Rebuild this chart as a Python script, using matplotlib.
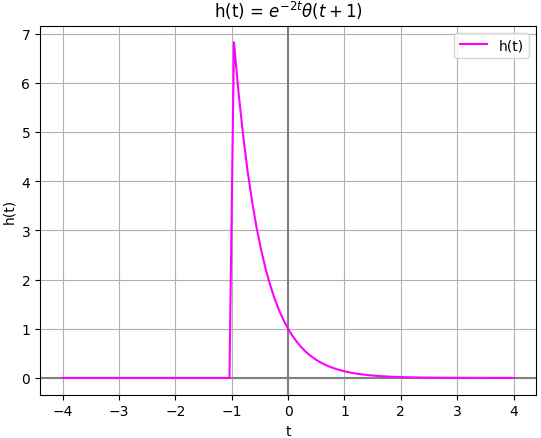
import matplotlib
matplotlib.use("Agg")
import matplotlib.pyplot as plt

# samples of h(t)
t_vals = [-4.0, -1.04, -0.96, -0.88, -0.80, -0.72, -0.64, -0.56, -0.48, -0.40,
          -0.32, -0.24, -0.16, -0.08, 0.00, 0.08, 0.16, 0.24, 0.32, 0.40,
          0.48, 0.56, 0.64, 0.72, 0.80, 0.88, 0.96, 1.04, 1.12, 1.20,
          1.28, 1.36, 1.44, 1.52, 1.60, 1.68, 1.76, 1.84, 1.92, 2.00,
          2.4, 2.8, 3.2, 3.6, 4.0]
h_vals = [0.0, 0.0, 6.821, 5.812, 4.953, 4.221, 3.597, 3.065, 2.612, 2.226,
          1.896, 1.616, 1.377, 1.174, 1.000, 0.852, 0.726, 0.619, 0.527, 0.449,
          0.383, 0.326, 0.278, 0.237, 0.202, 0.172, 0.147, 0.125, 0.106, 0.091,
          0.077, 0.066, 0.056, 0.048, 0.041, 0.035, 0.030, 0.025, 0.022, 0.018,
          0.008, 0.004, 0.002, 0.001, 0.0003]

fig = plt.figure(figsize=(5.41, 4.39), dpi=100)
ax = fig.add_axes([0.074, 0.0985, 0.917, 0.841])

ax.axhline(0, color="gray")
ax.axvline(0, color="gray")
ax.plot(t_vals, h_vals, color="magenta", label="h(t)")
ax.grid(True)
ax.set_xlabel("t")
ax.set_ylabel("h(t)")
ax.set_title(r"h(t) = $e^{-2t}\theta(t+1)$")
ax.legend(loc="upper right")

fig.savefig("out.png", dpi=100)
